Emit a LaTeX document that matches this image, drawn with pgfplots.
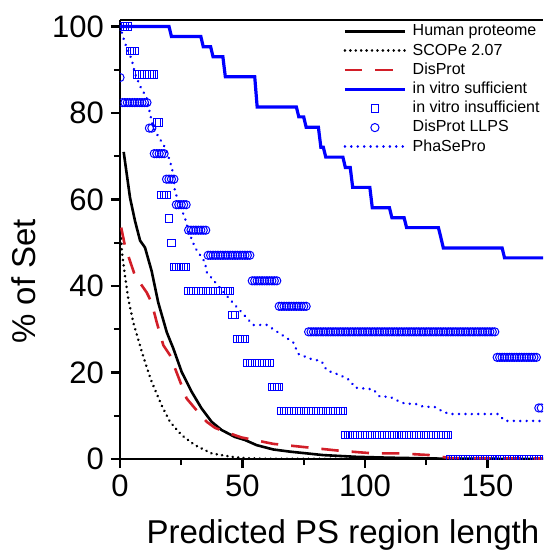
\documentclass[border=0pt]{standalone}
\usepackage{fontspec}
\setmainfont{Liberation Sans}
\usepackage{pgfplots}
\pgfplotsset{compat=1.18}
\definecolor{vitro}{RGB}{0,0,255}
\definecolor{dp}{RGB}{210,30,40}
\pgfplotsset{
    linelegend/.style={legend image code/.code={\draw[##1] (0pt,0pt)--(30pt,0pt);}},
    marklegend/.style={legend image code/.code={\draw[##1,only marks] plot coordinates {(15pt,0pt)};}},
}

\begin{document}
\begin{tikzpicture}
\useasboundingbox (-60pt,-45.5pt) rectangle (211.5pt,229.5pt);
\begin{axis}[
    at={(0pt,0pt)}, anchor=south west,
    scale only axis, width=211.5pt, height=219.5pt,
    xmin=0, xmax=172.7, ymin=0, ymax=101.5,
    clip mode=individual, clip marker paths=true,
    axis x line=box, axis y line=left,
    axis line style={line width=1.4pt,-},
    xtick pos=left,
    xtick={0,50,100,150}, minor xtick={25,75,125,175},
    ytick={0,20,40,60,80,100}, minor ytick={10,30,50,70,90},
    tick align=outside, major tick length=4.5pt, minor tick length=3pt,
    tick style={black, line width=1.2pt},
    ticklabel style={font=\fontsize{15.5}{16}\selectfont},
    /pgf/number format/assume math mode=true,
    xlabel={Predicted PS region length}, ylabel={\% of Set},
    label style={font=\fontsize{16.5}{18}\selectfont},
    xlabel style={at={(axis description cs:0.527,-0.172)}, anchor=center},
    ylabel style={at={(axis description cs:-0.227,0.405)}, anchor=center},
    legend cell align=left,
    legend style={at={(0.527,1)}, anchor=north west, yshift=-0.8pt,
        draw=none, fill=none, inner sep=0pt, row sep=0pt, column sep=2.5pt,
        font=\fontsize{8}{8.5}\selectfont,
        nodes={inner sep=0.6pt, text height=6.4pt, text depth=2pt}},
    linelegend,
]
% Human proteome
\addplot[black, line width=1.3pt] coordinates {
(1.5,71)(4.1,60.4)(6.1,55.1)(8.2,50.5)(10.2,48.9)(12.9,43.5)(15.6,36.2)(19.1,29.3)
(21.8,25.5)(25.2,20.1)(29.3,15.5)(33.3,11.7)(37.4,8.6)(41.5,6.7)(46.9,5.1)(51,4.4)
(55.8,3.2)(62.6,2.2)(69.4,1.7)(83,0.9)(96.6,0.5)(110,0.3)(130,0.1)(175,0)};
\addlegendentry{Human proteome}
% SCOPe 2.07
\addplot[black, line width=1.4pt, line cap=round, dash pattern=on 0.01pt off 2.7pt] coordinates {
(0.5,51)(0.8,47.8)(2,42.5)(3.4,37)(5.4,31.6)(7.5,27.5)(10,22.8)(12.5,18.5)(14.3,16)
(17,12.4)(20.4,8.6)(25.2,5.5)(30.6,3.2)(37.4,1.3)(45.6,0.5)(51,0.2)(60,0.05)(175,0)};
\addlegendentry{SCOPe 2.07}
% DisProt
\addplot[dp, line width=1.3pt, dash pattern=on 8.7pt off 6.5pt] coordinates {
(0.5,53.5)(2,49.3)(6.1,42.4)(10.9,38.5)(12.9,36.2)(15,31.6)(17.7,26.3)(20.4,24)
(23.8,19)(27.2,14)(30.6,11.7)(35.4,8.6)(38.8,7.2)(42.9,6.3)(49.5,5)(62.6,3.5)
(76.2,2.7)(89.8,1.9)(103.4,1.3)(114.3,1.3)(126.5,0.9)(130,0.6)(135,0.2)(175,0.1)};
\addlegendentry{DisProt}
% in vitro sufficient
\addplot[vitro, line width=1.6pt] coordinates {
(0,100)(20,100)(21,97.7)(33,97.7)(34,95.3)(37,95.3)(38,93.0)(42,93.0)(43,88.4)
(55,88.4)(56,81.4)(72,81.4)(73,79.1)(75,79.1)(76,76.7)(81,76.7)(82,72.1)(83,72.1)
(84,69.8)(91,69.8)(92,67.4)(94,67.4)(95,62.8)(102,62.8)(103,58.1)(110,58.1)
(111,55.8)(116,55.8)(117,53.5)(130,53.5)(131,51.2)(132,48.8)(156,48.8)(157,46.5)(175,46.5)};
\addlegendentry{in vitro sufficient}
% in vitro insufficient
\addplot[vitro, only marks, mark=square, mark size=1.85pt, mark options={line width=0.5pt},
    marklegend] coordinates {
(0,100)(1,100)(2,100)(3,100)
(4,94.4)(5,94.4)(6,94.4)
(7,88.9)(8,88.9)(9,88.9)(10,88.9)(11,88.9)(12,88.9)(13,88.9)(14,88.9)
(15,77.8)(16,77.8)
(17,61.1)(18,61.1)(19,61.1)
(20,55.6)
(21,50)
(22,44.4)(23,44.4)(24,44.4)(25,44.4)(26,44.4)(27,44.4)
(28,38.9)(29,38.9)(30,38.9)(31,38.9)(32,38.9)(33,38.9)(34,38.9)(35,38.9)(36,38.9)
(37,38.9)(38,38.9)(39,38.9)(40,38.9)(41,38.9)(42,38.9)(43,38.9)(44,38.9)(45,38.9)
(46,33.3)(47,33.3)
(48,27.8)(49,27.8)(50,27.8)(51,27.8)
(52,22.2)(53,22.2)(54,22.2)(55,22.2)(56,22.2)(57,22.2)(58,22.2)(59,22.2)(60,22.2)(61,22.2)
(62,16.7)(63,16.7)(64,16.7)(65,16.7)
(66,11.1)(67,11.1)(68,11.1)(69,11.1)(70,11.1)(71,11.1)(72,11.1)(73,11.1)(74,11.1)
(75,11.1)(76,11.1)(77,11.1)(78,11.1)(79,11.1)(80,11.1)(81,11.1)(82,11.1)(83,11.1)
(84,11.1)(85,11.1)(86,11.1)(87,11.1)(88,11.1)(89,11.1)(90,11.1)(91,11.1)
(92,5.6)(93,5.6)(94,5.6)(95,5.6)(96,5.6)(97,5.6)(98,5.6)(99,5.6)(100,5.6)(101,5.6)
(102,5.6)(103,5.6)(104,5.6)(105,5.6)(106,5.6)(107,5.6)(108,5.6)(109,5.6)(110,5.6)
(111,5.6)(112,5.6)(113,5.6)(114,5.6)(115,5.6)(116,5.6)(117,5.6)(118,5.6)(119,5.6)
(120,5.6)(121,5.6)(122,5.6)(123,5.6)(124,5.6)(125,5.6)(126,5.6)(127,5.6)(128,5.6)
(129,5.6)(130,5.6)(131,5.6)(132,5.6)(133,5.6)(134,5.6)
(135,0)(136,0)(137,0)(138,0)(139,0)(140,0)(141,0)(142,0)(143,0)(144,0)(145,0)(146,0)
(147,0)(148,0)(149,0)(150,0)(151,0)(152,0)(153,0)(154,0)(155,0)(156,0)(157,0)(158,0)
(159,0)(160,0)(161,0)(162,0)(163,0)(164,0)(165,0)(166,0)(167,0)(168,0)(169,0)(170,0)
(171,0)(172,0)(173,0)};
\addlegendentry{in vitro insufficient}
% DisProt LLPS
\addplot[vitro, only marks, mark=o, mark size=2.05pt, mark options={line width=0.5pt},
    marklegend] coordinates {
(0,88.2)
(1,82.4)(2,82.4)(3,82.4)(4,82.4)(5,82.4)(6,82.4)(7,82.4)(8,82.4)(9,82.4)(10,82.4)(11,82.4)
(12,76.5)(13,76.5)
(14,70.6)(15,70.6)(16,70.6)(17,70.6)(18,70.6)
(19,64.7)(20,64.7)(21,64.7)(22,64.7)
(23,58.8)(24,58.8)(25,58.8)(26,58.8)(27,58.8)
(28,52.9)(29,52.9)(30,52.9)(31,52.9)(32,52.9)(33,52.9)(34,52.9)(35,52.9)
(36,47.1)(37,47.1)(38,47.1)(39,47.1)(40,47.1)(41,47.1)(42,47.1)(43,47.1)(44,47.1)
(45,47.1)(46,47.1)(47,47.1)(48,47.1)(49,47.1)(50,47.1)(51,47.1)(52,47.1)(53,47.1)
(54,41.2)(55,41.2)(56,41.2)(57,41.2)(58,41.2)(59,41.2)(60,41.2)(61,41.2)(62,41.2)
(63,41.2)(64,41.2)
(65,35.3)(66,35.3)(67,35.3)(68,35.3)(69,35.3)(70,35.3)(71,35.3)(72,35.3)(73,35.3)
(74,35.3)(75,35.3)(76,35.3)
(77,29.4)(78,29.4)(79,29.4)(80,29.4)(81,29.4)(82,29.4)(83,29.4)(84,29.4)(85,29.4)
(86,29.4)(87,29.4)(88,29.4)(89,29.4)(90,29.4)(91,29.4)(92,29.4)(93,29.4)(94,29.4)
(95,29.4)(96,29.4)(97,29.4)(98,29.4)(99,29.4)(100,29.4)(101,29.4)(102,29.4)(103,29.4)
(104,29.4)(105,29.4)(106,29.4)(107,29.4)(108,29.4)(109,29.4)(110,29.4)(111,29.4)
(112,29.4)(113,29.4)(114,29.4)(115,29.4)(116,29.4)(117,29.4)(118,29.4)(119,29.4)
(120,29.4)(121,29.4)(122,29.4)(123,29.4)(124,29.4)(125,29.4)(126,29.4)(127,29.4)
(128,29.4)(129,29.4)(130,29.4)(131,29.4)(132,29.4)(133,29.4)(134,29.4)(135,29.4)
(136,29.4)(137,29.4)(138,29.4)(139,29.4)(140,29.4)(141,29.4)(142,29.4)(143,29.4)
(144,29.4)(145,29.4)(146,29.4)(147,29.4)(148,29.4)(149,29.4)(150,29.4)(151,29.4)
(152,29.4)(153,29.4)
(154,23.5)(155,23.5)(156,23.5)(157,23.5)(158,23.5)(159,23.5)(160,23.5)(161,23.5)
(162,23.5)(163,23.5)(164,23.5)(165,23.5)(166,23.5)(167,23.5)(168,23.5)(169,23.5)(170,23.5)
(171,11.8)(172,11.8)(173,11.8)};
\addlegendentry{DisProt LLPS}
% PhaSePro
\addplot[vitro, line width=1.35pt, line cap=round, dash pattern=on 0.01pt off 3.2pt] coordinates {
(0,100)(2,96.2)(4.8,92.3)(6.1,89.2)(8.2,86.2)(10.9,83.5)(12.2,80)(13.6,76.5)(18.4,72)
(20.4,68.9)(21.8,65.8)(22.4,62)(24.5,58.5)(26.5,55.8)(27.9,52.8)(30.6,48.9)(34.7,45.5)
(35.4,43.2)(38.8,40.9)(43.5,37.8)(49,34.3)(54.4,31)(59.9,31)(65.3,29)(70.7,27)
(72.8,24.3)(77.6,23.2)(82.3,22.6)(84.4,20.5)(89.8,19.4)(93.9,18.2)(95.9,16.5)
(103.4,16.1)(106.1,14.4)(110.2,14.4)(112.9,13.6)(116.3,12.8)(121,12.7)(123.8,12.1)
(128.6,12)(132,10.9)(134.7,10.4)(154.4,10.4)(157.1,8.8)(175,8.8)};
\addlegendentry{PhaSePro}
\end{axis}
\end{tikzpicture}
\end{document}
